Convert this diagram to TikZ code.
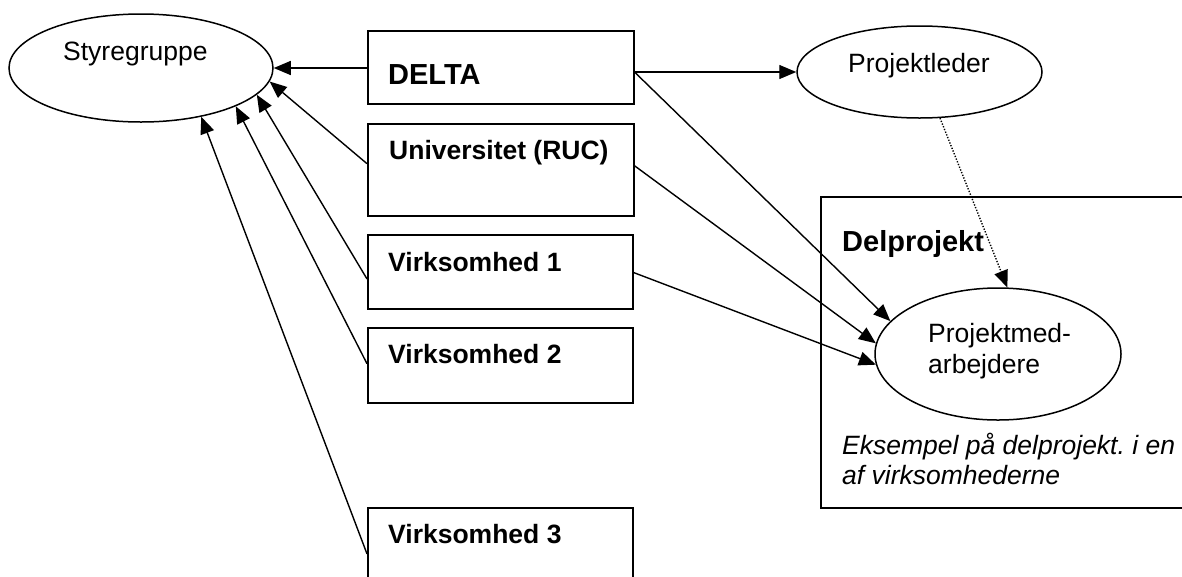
\documentclass[tikz,border=0pt]{standalone}
\usepackage{fontspec}
\setmainfont{Liberation Sans}
\usetikzlibrary{arrows.meta,calc,shapes.geometric}
\frenchspacing
\begin{document}
\begin{tikzpicture}[x=1pt,y=-1pt,
  boxnode/.style={draw, line width=1.5pt, rectangle, inner sep=0pt, anchor=north west},
  ellnode/.style={draw, line width=1.5pt, ellipse, inner sep=0pt},
  txt/.style={anchor=base west, inner sep=0pt, font=\fontsize{26.5}{30}\selectfont},
  btxt/.style={anchor=base west, inner sep=0pt, font=\fontsize{26.5}{30}\selectfont\bfseries},
  bigtxt/.style={anchor=base west, inner sep=0pt, font=\fontsize{29}{33}\selectfont\bfseries},
  itxt/.style={anchor=base west, inner sep=0pt, font=\fontsize{26.5}{30}\selectfont\itshape},
  arr/.style={line width=1.4pt, -{Triangle[length=17pt,width=14pt]}},
  dotarr/.style={line width=1.4pt, dash pattern=on 1.3pt off 1.6pt, -{Triangle[length=17pt,width=14pt]}}
]
\useasboundingbox (0,0) rectangle (1182,576);
\clip (0,0) rectangle (1182,576);

% Nodes
\node[ellnode, minimum width=264pt, minimum height=108pt] (sty) at (141,68) {};
\node[txt] (styt) at (63,60) {Styregruppe};

\node[boxnode, minimum width=266pt, minimum height=73pt] (delta) at (367,30) {};
\node[bigtxt] (deltat) at (388,84) {DELTA};

\node[boxnode, minimum width=266pt, minimum height=92pt] (uni) at (367,123) {};
\node[btxt] (unit) at (389,159) {Universitet (RUC)};

\node[boxnode, minimum width=265pt, minimum height=74pt] (v1) at (367,234) {};
\node[btxt] (v1t) at (388,271) {Virksomhed 1};

\node[boxnode, minimum width=265pt, minimum height=75pt] (v2) at (367,327) {};
\node[btxt] (v2t) at (388,363) {Virksomhed 2};

\node[boxnode, minimum width=265pt, minimum height=75pt] (v3) at (367,507) {};
\node[btxt] (v3t) at (388,543) {Virksomhed 3};

\node[ellnode, minimum width=245pt, minimum height=92pt] (pl) at (919.5,72) {};
\node[txt] (plt) at (848,72) {Projektleder};

\node[boxnode, minimum width=380pt, minimum height=311pt] (del) at (820,196) {};
\node[bigtxt] (delt) at (842,251) {Delprojekt};

\node[ellnode, minimum width=246pt, minimum height=132pt] (pm) at (998,354) {};
\node[txt] (pmt1) at (928,342) {Projektmed-};
\node[txt] (pmt2) at (928,373) {arbejdere};

\node[itxt] (ex1) at (842,454) {Eksempel på delprojekt. i en};
\node[itxt] (ex2) at (842,484) {af virksomhederne};

% Connectors
\draw[arr] (sty.east -| delta.west) -- (sty.east);
\draw[arr] ($(uni.north west)!0.435!(uni.south west)$) -- (sty.-6.3);
\draw[arr] ($(v1.north west)!0.595!(v1.south west)$) -- (sty.-13.1);
\draw[arr] ($(v2.north west)!0.48!(v2.south west)$) -- (sty.-22.4);
\draw[arr] ($(v3.north west)!0.613!(v3.south west)$) -- (sty.-39.7);

\draw[arr] (pl.west -| delta.east) -- (pl.west);
\draw[arr] (pl.west -| delta.east) -- (pm.163.2);
\draw[arr] ($(uni.north east)!0.457!(uni.south east)$) -- (pm.175.4);
\draw[arr] ($(v1.north east)!0.51!(v1.south east)$) -- (pm.-175.8);
\draw[dotarr] (pl.-66.6) -- (pm.82.3);
\end{tikzpicture}
\end{document}
